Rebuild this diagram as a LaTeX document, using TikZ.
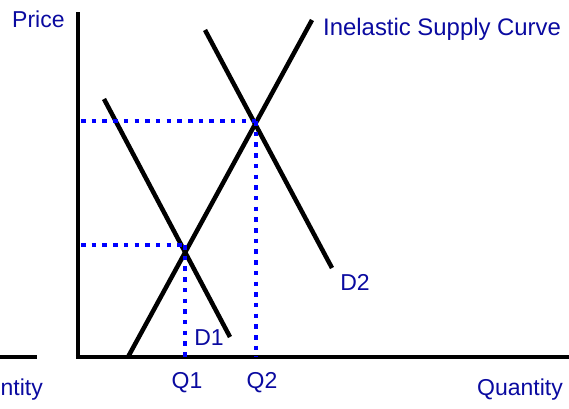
\documentclass[tikz,border=0pt]{standalone}
\usepackage{fontspec}
\setmainfont{Liberation Sans}
\begin{document}
\begin{tikzpicture}[x=1pt,y=-1pt,
  curve/.style={line width=4.5pt, black},
  axisline/.style={line width=4.5pt, black},
  guide/.style={line width=4.5pt, color={rgb,255:red,0;green,0;blue,255}, dash pattern=on 4.5pt off 6.2pt},
  lbl/.style={text=labelblue, inner sep=0pt, font=\fontsize{23}{27}\selectfont}]
\definecolor{labelblue}{RGB}{10,10,160}
\useasboundingbox (0,0) rectangle (569,408);
% axes
\coordinate (ytop) at (78,12);
\coordinate (orig) at (78,357);
\coordinate (xend) at (569,357);
\coordinate (stubA) at (0,357);
\coordinate (stubB) at (37,357);
\draw[axisline] (ytop) -- (orig);
\draw[axisline] ([xshift=-2.25pt]orig) -- (xend);
\draw[axisline] (stubA) -- (stubB);
% curves
\coordinate (s1) at (128,357);
\coordinate (s2) at (312,20);
\coordinate (d1a) at (104,99);
\coordinate (d1b) at (230,337);
\coordinate (d2a) at (205,30);
\coordinate (d2b) at (332,268);
\draw[curve] (s1) -- (s2);
\draw[curve] (d1a) -- (d1b);
\draw[curve] (d2a) -- (d2b);
% guides
\coordinate (e1) at (185,245);
\coordinate (e2) at (256,121);
\coordinate (p1) at (81,245);
\coordinate (p2) at (81,121);
\coordinate (q1) at (185,357);
\coordinate (q2) at (256,357);
\draw[guide] (p2) -- (e2);
\draw[guide] (p1) -- (e1);
\draw[guide] (e1) -- (q1);
\draw[guide] (e2) -- (q2);
% labels
\node[lbl, anchor=base west] (price) at (12,27) {Price};
\node[lbl, anchor=base west, font=\fontsize{23.9}{28}\selectfont] (isc) at (323,35) {Inelastic Supply Curve};
\node[lbl, anchor=base] (lq1) at (187,388) {Q1};
\node[lbl, anchor=base] (lq2) at (262,388) {Q2};
\node[lbl, anchor=base] (ld1) at (209,345) {D1};
\node[lbl, anchor=base] (ld2) at (355,290) {D2};
\node[lbl, anchor=base east] (qty) at (563,395) {Quantity};
\node[lbl, anchor=base west] (qtyl) at (0.5,395) {ntity};
\end{tikzpicture}
\end{document}
